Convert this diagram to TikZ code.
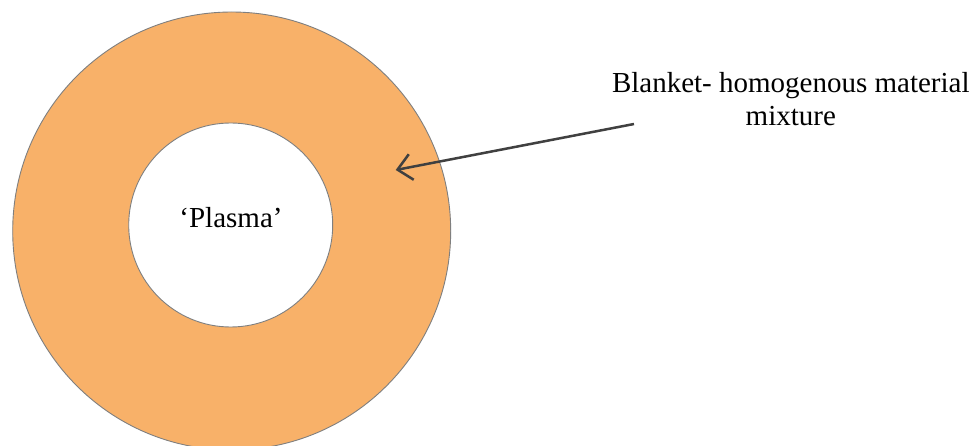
\documentclass[tikz,border=0pt]{standalone}
\usepackage{fontspec}
\setmainfont{Liberation Serif}
\usetikzlibrary{arrows.meta}
\definecolor{blanket}{HTML}{F8B169}
\definecolor{rim}{HTML}{7F7F7F}
\definecolor{pointer}{HTML}{404040}
\tikzset{
  ring/.style={circle, draw=rim, line width=0.9pt, inner sep=0pt},
  label/.style={inner sep=0pt, font=\fontsize{29}{33}\selectfont},
  pointerline/.style={draw=pointer, line width=2.5pt, -{Straight Barb[length=14pt,width=26pt,line width=2.5pt]}}
}
\begin{document}
\begin{tikzpicture}[x=1pt,y=1pt]
\useasboundingbox (0,0) rectangle (978,445);
\fill[white] (0,0) rectangle (978,445);
\node[ring, fill=blanket, minimum size=438pt] (outer) at (231.7,214) {};
\node[ring, fill=white, minimum size=204pt] (inner) at (230.7,220) {};
\node[label, anchor=base] (plasma) at (231,217.3) {‘Plasma’};
\node[label, anchor=base] (blanketA) at (790.8,352) {Blanket- homogenous material};
\node[label, anchor=base] (blanketB) at (790.8,319) {mixture};
\coordinate (from) at (634,321);
\coordinate (tip) at (395.7,275);
\draw[pointerline] (from) -- (tip);
\end{tikzpicture}
\end{document}
